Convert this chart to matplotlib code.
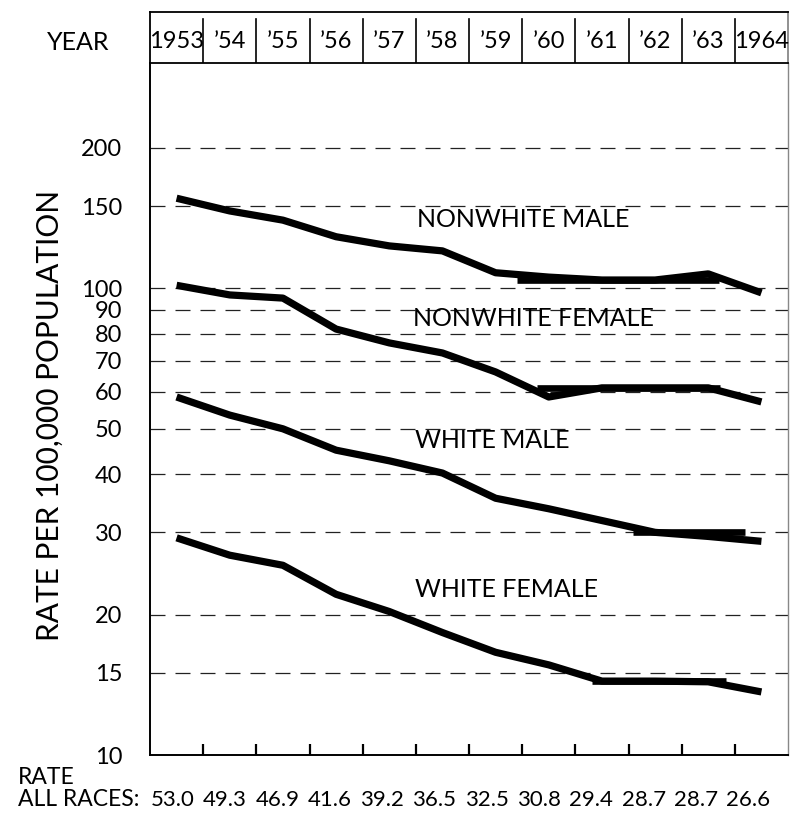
import matplotlib
matplotlib.use('Agg')
import matplotlib.pyplot as plt
import matplotlib.transforms as mtransforms
import numpy as np

# ---------------- data ----------------
years = list(range(1953, 1965))
year_labels = ["1953", "’54", "’55", "’56", "’57", "’58", "’59", "’60",
               "’61", "’62", "’63", "1964"]
all_races = ["53.0", "49.3", "46.9", "41.6", "39.2", "36.5", "32.5", "30.8",
             "29.4", "28.7", "28.7", "26.6"]

nonwhite_male = [156, 146.5, 140, 129, 123.3, 120.3, 108, 105.7, 104.2, 104.2, 107.4, 97.8]
nonwhite_female = [101.5, 96.8, 95.3, 81.8, 76.4, 72.7, 66.2, 58.5, 61.2, 61.2, 61.2, 57.1]
white_male = [58.5, 53.5, 50.0, 45.0, 42.7, 40.2, 35.5, 33.7, 31.8, 30.0, 29.4, 28.7]
white_female = [29.2, 26.8, 25.5, 22.1, 20.3, 18.3, 16.6, 15.6, 14.4, 14.4, 14.35, 13.65]

series_names = ["NONWHITE MALE", "NONWHITE FEMALE", "WHITE MALE", "WHITE FEMALE"]
series_values = [nonwhite_male, nonwhite_female, white_male, white_female]
label_pos_x = [1957.52, 1957.45, 1957.48, 1957.48]
label_pos_y = [140.2, 86.0, 47.3, 22.6]

# flat (plateau) strokes drawn in the original: start year, end year, value
plateau_start = [1959.40, 1959.78, 1961.58, 1960.81]
plateau_end = [1963.20, 1963.22, 1963.69, 1963.33]
plateau_value = [104.2, 61.2, 30.0, 14.4]

ytick_values = [10, 15, 20, 30, 40, 50, 60, 70, 80, 90, 100, 150, 200]

# ---------------- figure ----------------
FONT = ['Lato', 'DejaVu Sans']
plt.rcParams['font.family'] = FONT

W, H = 790, 814
fig = plt.figure(figsize=(W / 100, H / 100), dpi=100)

left_px, right_px = 150, 788
top_px, bottom_px = 63, 755
hdr_top_px = 12

ax = fig.add_axes([left_px / W, 1 - bottom_px / H,
                   (right_px - left_px) / W, (bottom_px - top_px) / H])
hax = fig.add_axes([left_px / W, 1 - top_px / H,
                    (right_px - left_px) / W, (top_px - hdr_top_px) / H])

xmin, xmax = years[0] - 0.5, years[-1] + 0.5
ax.set_xlim(xmin, xmax)
ax.set_yscale('log')
ax.set_ylim(10, 304)

# gridlines
for v in ytick_values[1:]:
    ax.axhline(v, color='#222222', lw=0.9, ls=(0, (12, 8)), zorder=1)

# lines
for vals in series_values:
    ax.plot(years, vals, color='black', lw=5.2, solid_capstyle='butt',
            solid_joinstyle='round', zorder=3)
for s, e, v in zip(plateau_start, plateau_end, plateau_value):
    ax.plot([s, e], [v, v], color='black', lw=4.8, solid_capstyle='butt', zorder=3)

# series labels
for name, x, y in zip(series_names, label_pos_x, label_pos_y):
    ax.text(x, y, name, fontsize=18, va='center', ha='left', color='black', zorder=4)

# axes styling
ax.set_yticks(ytick_values)
ax.set_yticklabels([str(v) for v in ytick_values])
ax.yaxis.set_minor_locator(matplotlib.ticker.NullLocator())
ax.tick_params(axis='y', length=0, pad=20, labelsize=17)
dividers = [y + 0.5 for y in years[:-1]]
ax.set_xticks(dividers)
ax.set_xticklabels([])
ax.tick_params(axis='x', direction='in', length=8, width=1.6, color='black')
ax.spines['top'].set_visible(False)
ax.spines['left'].set_linewidth(1.4)
ax.spines['bottom'].set_linewidth(1.4)
ax.spines['right'].set_color('#888888')
ax.spines['right'].set_linewidth(1.0)

ax.set_ylabel("RATE PER 100,000 POPULATION", fontsize=21.5)
ax.yaxis.set_label_coords((64 - left_px) / (right_px - left_px), 0.49)

# header
hax.set_xlim(xmin, xmax)
hax.set_ylim(0, 1)
hax.set_xticks([])
hax.set_yticks([])
for sp in hax.spines.values():
    sp.set_linewidth(1.3)
hax.spines['right'].set_color('#888888')
for d in dividers:
    hax.axvline(d, ymin=0, ymax=0.86, color='black', lw=1.2)
for yr, lab in zip(years, year_labels):
    hax.text(yr, 0.42, lab, ha='center', va='center', fontsize=17)

fig.text(47 / W, 1 - 42 / H, "YEAR", ha='left', va='center', fontsize=18)

# bottom "rate all races"
fig.text(18 / W, 1 - 777 / H, "RATE", ha='left', va='center', fontsize=16.5)
fig.text(18 / W, 1 - 800 / H, "ALL RACES:", ha='left', va='center', fontsize=16.5)
trans = mtransforms.blended_transform_factory(ax.transData, fig.transFigure)
for i, (yr, lab) in enumerate(zip(years, all_races)):
    fig.text(yr - 0.07 - 0.016 * i, 1 - 800 / H, lab, ha='center', va='center',
             fontsize=16, transform=trans)

fig.savefig('out.png', dpi=100)
